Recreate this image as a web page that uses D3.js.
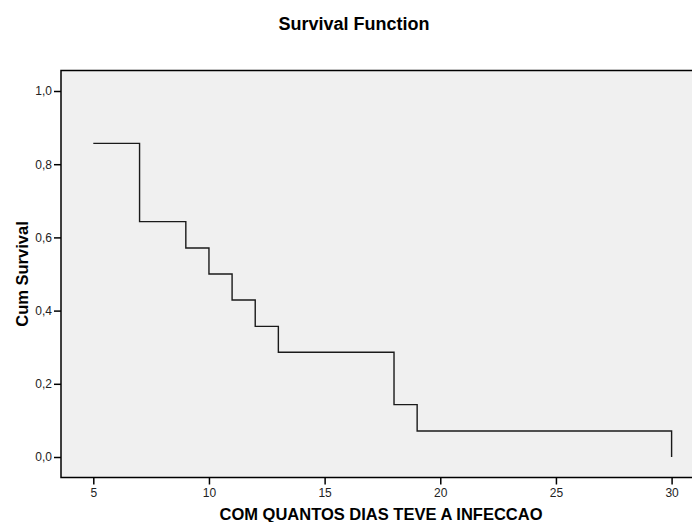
<!DOCTYPE html>
<html>
<head>
<meta charset="utf-8">
<script src="https://cdn.jsdelivr.net/npm/d3@7"></script>
<style>
  html, body { margin: 0; padding: 0; background: #ffffff; }
  svg { display: block; font-family: "Liberation Sans", Arial, sans-serif; }
</style>
</head>
<body>
<svg id="chart" width="692" height="522"></svg>
<script>
// Data: Kaplan-Meier step points (time, cumulative survival)
const times = [5, 7, 9, 10, 11, 12, 13, 18, 19, 30];
const survival = [0.857, 0.643, 0.571, 0.500, 0.429, 0.357, 0.286, 0.143, 0.071, 0.000];
const xTicks = [5, 10, 15, 20, 25, 30];
const yTicks = [0.0, 0.2, 0.4, 0.6, 0.8, 1.0];
const chartTitle = "Survival Function";
const xTitle = "COM QUANTOS DIAS TEVE A INFECCAO";
const yTitle = "Cum Survival";

const svg = d3.select("#chart");

const plot = { left: 61, top: 70.5, right: 693, bottom: 477.5 };

const x = d3.scaleLinear().domain([5, 30]).range([93.3, 671.6]);
const y = d3.scaleLinear().domain([0, 1]).range([457, 91]);

// plot background
svg.append("rect")
  .attr("x", plot.left).attr("y", plot.top)
  .attr("width", plot.right - plot.left).attr("height", plot.bottom - plot.top)
  .attr("fill", "#f0f0f0").attr("stroke", "#000").attr("stroke-width", 1.5);

// survival step line
const pts = times.map((t, i) => [t, survival[i]]);
const line = d3.line().x(d => x(d[0])).y(d => y(d[1])).curve(d3.curveStepAfter);
svg.append("path")
  .datum(pts)
  .attr("d", line)
  .attr("fill", "none")
  .attr("stroke", "#1a1a1a")
  .attr("stroke-width", 1.4);

// y axis
const yAxis = d3.axisLeft(y).tickValues(yTicks)
  .tickFormat(d => d3.format(".1f")(d).replace(".", ","))
  .tickSize(7).tickPadding(2);
const gy = svg.append("g").attr("transform", `translate(${plot.left},0)`).call(yAxis);
gy.select(".domain").remove();
gy.selectAll(".tick line").attr("stroke", "#000").attr("stroke-width", 1.5);
gy.selectAll(".tick text").attr("font-size", 12).attr("fill", "#222")
  .attr("font-family", "Liberation Sans, Arial, sans-serif");

// x axis
const xAxis = d3.axisBottom(x).tickValues(xTicks).tickFormat(d3.format("d"))
  .tickSize(7).tickPadding(4);
const gx = svg.append("g").attr("transform", `translate(0,${plot.bottom})`).call(xAxis);
gx.select(".domain").remove();
gx.selectAll(".tick line").attr("stroke", "#000").attr("stroke-width", 1.5);
gx.selectAll(".tick text").attr("font-size", 12).attr("fill", "#222")
  .attr("font-family", "Liberation Sans, Arial, sans-serif");

// titles
svg.append("text")
  .attr("x", 354).attr("y", 30)
  .attr("text-anchor", "middle")
  .attr("font-size", 18).attr("font-weight", "bold").attr("fill", "#000")
  .text(chartTitle);

svg.append("text")
  .attr("x", 381).attr("y", 520)
  .attr("text-anchor", "middle")
  .attr("font-size", 16.5).attr("font-weight", "bold").attr("fill", "#000")
  .text(xTitle);

svg.append("text")
  .attr("transform", "translate(28,274) rotate(-90)")
  .attr("text-anchor", "middle")
  .attr("font-size", 16.5).attr("font-weight", "bold").attr("fill", "#000")
  .text(yTitle);
</script>
</body>
</html>
